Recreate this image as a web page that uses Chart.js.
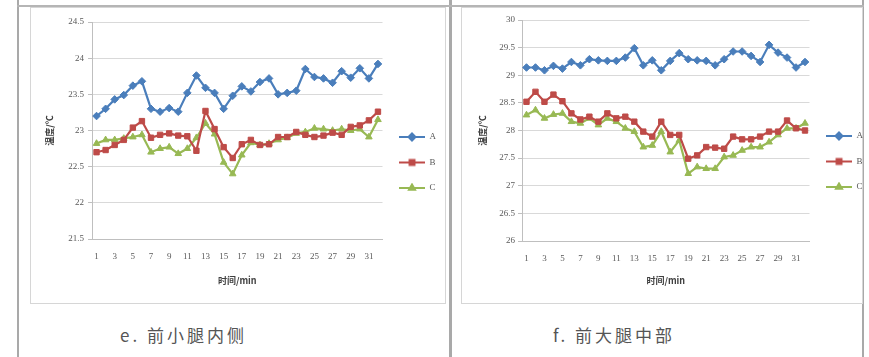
<!DOCTYPE html>
<html>
<head>
<meta charset="utf-8">
<script src="https://cdn.jsdelivr.net/npm/chart.js@4.4.0/dist/chart.umd.min.js"></script>
<style>
  html, body { margin: 0; padding: 0; background: #fff; }
  body { width: 869px; height: 357px; position: relative; overflow: hidden; }
  .rule { position: absolute; background: #a9a9a9; }
  .box { position: absolute; border: 1px solid #d6d6d6; box-sizing: border-box; }
  canvas { position: absolute; filter: blur(0.45px); }
  .cap { position: absolute; top: 322px; font-family: "Noto Sans CJK SC", sans-serif; font-size: 17px; color: #555; letter-spacing: 3px; white-space: nowrap; }
</style>
</head>
<body>
<div class="rule" style="left:17px;top:0;width:2px;height:357px"></div>
<div class="rule" style="left:449px;top:0;width:3px;height:357px"></div>
<div class="rule" style="left:862px;top:0;width:2px;height:357px"></div>
<div class="rule" style="left:17px;top:5px;width:847px;height:2px;background:#b5b5b5"></div>
<div class="box" style="left:30px;top:7px;width:416px;height:297px"></div>
<div class="box" style="left:461px;top:7px;width:402px;height:297px"></div>

<canvas id="chartE" width="416" height="296" style="left:30px;top:7px"></canvas>
<canvas id="chartF" width="408" height="296" style="left:461px;top:7px"></canvas>

<div class="cap" style="left:120px">e.&nbsp;前小腿内侧</div>
<div class="cap" style="left:553px">f.&nbsp;前大腿中部</div>

<script>
// 时间轴 1..32 min
const minutes = ['1','2','3','4','5','6','7','8','9','10','11','12','13','14','15','16',
                 '17','18','19','20','21','22','23','24','25','26','27','28','29','30','31','32'];

// e. 前小腿内侧
const eA = [23.20, 23.30, 23.43, 23.49, 23.62, 23.68, 23.30, 23.26, 23.31, 23.26, 23.52, 23.76, 23.59, 23.52, 23.30, 23.48,
            23.61, 23.54, 23.67, 23.72, 23.50, 23.52, 23.55, 23.85, 23.74, 23.72, 23.66, 23.82, 23.73, 23.86, 23.72, 23.92];
const eB = [22.70, 22.73, 22.80, 22.87, 23.04, 23.13, 22.90, 22.94, 22.96, 22.93, 22.92, 22.72, 23.27, 23.02, 22.77, 22.62,
            22.81, 22.87, 22.80, 22.81, 22.91, 22.91, 22.98, 22.94, 22.91, 22.93, 22.97, 22.94, 23.05, 23.07, 23.14, 23.26];
const eC = [22.82, 22.87, 22.87, 22.89, 22.91, 22.94, 22.70, 22.75, 22.77, 22.68, 22.75, 22.90, 23.10, 22.95, 22.56, 22.40,
            22.66, 22.83, 22.80, 22.82, 22.87, 22.90, 22.96, 22.98, 23.03, 23.02, 23.00, 23.02, 23.00, 23.02, 22.91, 23.15];
const eTicks = { min: 21.5, max: 24.5, step: 0.5 };

// f. 前大腿中部
const fA = [29.14, 29.14, 29.09, 29.17, 29.12, 29.24, 29.18, 29.29, 29.27, 29.26, 29.26, 29.32, 29.49, 29.18, 29.27, 29.09,
            29.26, 29.40, 29.29, 29.27, 29.26, 29.18, 29.29, 29.43, 29.43, 29.35, 29.24, 29.55, 29.41, 29.32, 29.14, 29.24];
const fB = [28.52, 28.70, 28.52, 28.65, 28.53, 28.31, 28.20, 28.25, 28.16, 28.31, 28.22, 28.25, 28.16, 27.98, 27.89, 28.16,
            27.92, 27.92, 27.49, 27.55, 27.70, 27.69, 27.67, 27.89, 27.84, 27.84, 27.89, 27.98, 27.98, 28.18, 28.04, 28.00];
const fC = [28.28, 28.37, 28.22, 28.29, 28.31, 28.16, 28.13, 28.22, 28.10, 28.22, 28.16, 28.04, 27.98, 27.70, 27.73, 27.98,
            27.61, 27.82, 27.22, 27.34, 27.31, 27.31, 27.52, 27.55, 27.64, 27.70, 27.70, 27.79, 27.92, 28.04, 28.04, 28.13];
const fTicks = { min: 26, max: 30, step: 0.5 };

const seriesNames = ['A', 'B', 'C'];
const seriesColors = ['#4a7ebb', '#be4b48', '#98b954'];
const seriesMarkers = ['rectRot', 'rect', 'triangle'];

const tickFont = { family: '"Liberation Serif", serif', size: 9 };
const titleFont = { family: '"Noto Sans CJK SC", sans-serif', size: 9, weight: 'bold' };

// 图例样式：线段 + 标记
function legendSwatch(i) {
    const c = document.createElement('canvas');
    c.width = 26; c.height = 10;
    const g = c.getContext('2d');
    g.strokeStyle = seriesColors[i];
    g.fillStyle = seriesColors[i];
    g.lineWidth = 2;
    g.beginPath(); g.moveTo(0, 5); g.lineTo(26, 5); g.stroke();
    Chart.helpers.drawPoint(g, { pointStyle: seriesMarkers[i], radius: 3.5, rotation: 0, borderWidth: 1 }, 13, 5);
    return c;
}

function makeChart(id, values, ticks, opt) {
    const datasets = values.map((v, i) => ({
        label: seriesNames[i],
        data: v,
        borderColor: seriesColors[i],
        backgroundColor: seriesColors[i],
        borderWidth: 2.2,
        pointStyle: seriesMarkers[i],
        pointRadius: 3.8,
        pointBorderWidth: 1,
        tension: 0
    }));

    return new Chart(document.getElementById(id), {
        type: 'line',
        data: { labels: minutes, datasets },
        options: {
            responsive: false,
            animation: false,
            layout: { padding: { left: 0, right: opt.padRight, top: opt.padTop, bottom: 0 } },
            plugins: {
                tooltip: { enabled: false },
                legend: {
                    position: 'right',
                    labels: {
                        usePointStyle: true,
                        pointStyleWidth: 26,
                        padding: 16.5,
                        color: '#595959',
                        font: tickFont,
                        generateLabels: chart => chart.data.datasets.map((d, i) => ({
                            text: d.label,
                            pointStyle: legendSwatch(i),
                            fillStyle: d.borderColor,
                            strokeStyle: d.borderColor,
                            fontColor: '#595959',
                            lineWidth: 0,
                            datasetIndex: i
                        }))
                    }
                }
            },
            scales: {
                x: {
                    offset: true,
                    grid: { display: false, drawTicks: true, tickLength: 0 },
                    border: { display: true, color: '#bfbfbf' },
                    ticks: {
                        autoSkip: false, maxRotation: 0, padding: 12,
                        color: '#595959', font: tickFont,
                        callback: (v, i) => (i % 2 === 0 ? minutes[i] : '')
                    },
                    title: { display: true, text: '时间/min', color: '#404040', font: titleFont, padding: { top: 0, bottom: 17 } },
                    afterFit: s => { s.height = opt.xHeight; }
                },
                y: {
                    min: ticks.min, max: ticks.max,
                    grid: { color: '#d9d9d9', lineWidth: 1, tickLength: 4, tickColor: '#bfbfbf' },
                    border: { display: true, color: '#bfbfbf' },
                    ticks: {
                        stepSize: ticks.step, padding: opt.yTickPad, color: '#595959', font: tickFont,
                        callback: v => String(v)
                    },
                    title: { display: true, text: '温度/℃', color: '#404040', font: titleFont, padding: { top: opt.yTitlePad, bottom: 0 } },
                    afterFit: s => { s.width = opt.yWidth; }
                }
            }
        }
    });
}

makeChart('chartE', [eA, eB, eC], eTicks, { padRight: 0, padTop: 15, xHeight: 64, yWidth: 62, yTickPad: 4, yTitlePad: 14.5 });
makeChart('chartF', [fA, fB, fC], fTicks, { padRight: -4, padTop: 13, xHeight: 62, yWidth: 61, yTickPad: 3, yTitlePad: 16.5 });
</script>
</body>
</html>
